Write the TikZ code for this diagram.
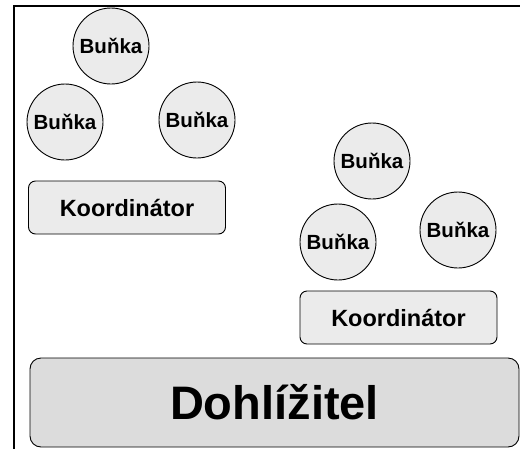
\documentclass[tikz,border=0pt]{standalone}
\usepackage{fontspec}
\setmainfont{Liberation Sans}
\definecolor{cellfill}{HTML}{EBEBEB}
\definecolor{supfill}{HTML}{DCDCDC}
\begin{document}
\begin{tikzpicture}[x=1pt,y=-1pt,
  cell/.style={circle,draw=black,line width=0.9pt,fill=cellfill,minimum size=76pt,inner sep=0pt,font=\fontsize{20.5}{22}\selectfont\bfseries},
  coord/.style={rectangle,rounded corners=7pt,draw=black,line width=0.9pt,fill=cellfill,minimum width=197pt,minimum height=53pt,inner sep=0pt,font=\fontsize{23.5}{25}\selectfont\bfseries},
  sup/.style={rectangle,rounded corners=11pt,draw=black,line width=0.9pt,fill=supfill,minimum width=489pt,minimum height=89pt,inner sep=0pt,font=\fontsize{47}{50}\selectfont\bfseries}]
\useasboundingbox (0,0) rectangle (520,448);
\draw[line width=2.5pt] (14,460) -- (14,6) -- (530,6);
\node[cell] (c1) at (111,46) {Buňka};
\node[cell] (c2) at (65,122) {Buňka};
\node[cell] (c3) at (197,120) {Buňka};
\node[coord] (k1) at (127,207.5) {Koordinátor};
\node[cell] (c4) at (372,161) {Buňka};
\node[cell] (c5) at (338,242) {Buňka};
\node[cell] (c6) at (458,230) {Buňka};
\node[coord] (k2) at (398.5,317.5) {Koordinátor};
\node[sup] (d) at (274.5,402.5) {Dohlížitel};
\end{tikzpicture}
\end{document}
